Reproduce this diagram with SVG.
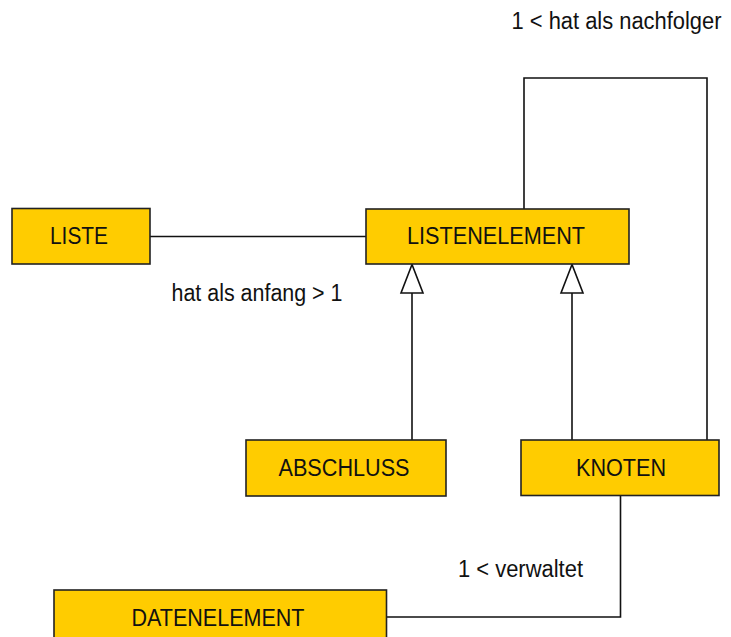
<svg xmlns="http://www.w3.org/2000/svg" width="731" height="637" viewBox="0 0 731 637">
<style>
.box{fill:#FFCC00;stroke:#222;stroke-width:1.6}
.lbl{font-family:"Liberation Sans",Arial,sans-serif;font-size:23px;fill:#111}
.edge{fill:none;stroke:#111;stroke-width:1.6}
.tri{fill:#fff;stroke:#111;stroke-width:1.6}
</style>
<rect width="731" height="637" fill="#fff"/>
<g id="connectors">
<line class="edge" x1="150" y1="236.5" x2="366" y2="236.5"/>
<polyline class="edge" points="524,209 524,78 707,78 707,440"/>
<polyline class="edge" points="620.5,496 620.5,617 387,617"/>
<line class="edge" x1="412" y1="293" x2="412" y2="440"/>
<line class="edge" x1="572" y1="293" x2="572" y2="440"/>
<polygon class="tri" points="412,264.5 401,293 423,293"/>
<polygon class="tri" points="572,264.5 561,293 583,293"/>
<text class="lbl" x="171.5" y="301" textLength="171" lengthAdjust="spacingAndGlyphs">hat als anfang &gt; 1</text>
<text class="lbl" x="511.5" y="29" textLength="210" lengthAdjust="spacingAndGlyphs">1 &lt; hat als nachfolger</text>
<text class="lbl" x="458" y="577" textLength="125" lengthAdjust="spacingAndGlyphs">1 &lt; verwaltet</text>
</g>
<g id="liste">
<rect class="box" x="12" y="208.5" width="138" height="55.5"/>
<text class="lbl" x="50" y="244" textLength="58" lengthAdjust="spacingAndGlyphs">LISTE</text>
</g>
<g id="listenelement">
<rect class="box" x="366" y="209" width="263" height="55"/>
<text class="lbl" x="407" y="244" textLength="178" lengthAdjust="spacingAndGlyphs">LISTENELEMENT</text>
</g>
<g id="abschluss">
<rect class="box" x="246" y="440" width="200" height="56"/>
<text class="lbl" x="278.5" y="476" textLength="131" lengthAdjust="spacingAndGlyphs">ABSCHLUSS</text>
</g>
<g id="knoten">
<rect class="box" x="521" y="440" width="198" height="55.5"/>
<text class="lbl" x="576" y="476" textLength="90" lengthAdjust="spacingAndGlyphs">KNOTEN</text>
</g>
<g id="datenelement">
<rect class="box" x="54" y="590" width="332.5" height="56"/>
<text class="lbl" x="131.5" y="625.5" textLength="173" lengthAdjust="spacingAndGlyphs">DATENELEMENT</text>
</g>
</svg>
